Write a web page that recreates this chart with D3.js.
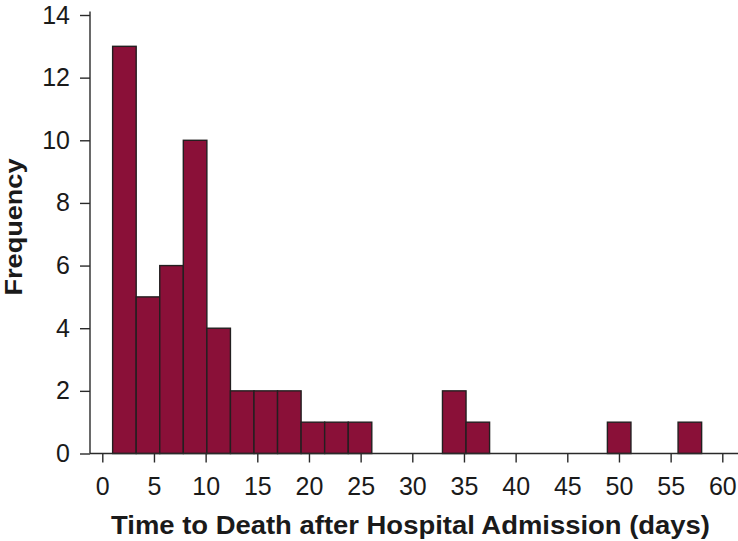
<!DOCTYPE html>
<html>
<head>
<meta charset="utf-8">
<script src="https://cdn.jsdelivr.net/npm/d3@7"></script>
<style>
  html, body { margin: 0; padding: 0; background: #fff; }
  svg { display: block; }
  text { font-family: "Liberation Sans", Arial, Helvetica, sans-serif; fill: #1a1a1a; }
</style>
</head>
<body>
<svg id="chart" width="738" height="541"></svg>
<script>
// Histogram bins: 25 equal-width bins from 1 to 58 days
const binStart = 1;
const binEnd = 58;
const binCount = 25;
const counts = [13, 5, 6, 10, 4, 2, 2, 2, 1, 1, 1, 0, 0, 0, 2, 1, 0, 0, 0, 0, 0, 1, 0, 0, 1];
const xTicks = [0, 5, 10, 15, 20, 25, 30, 35, 40, 45, 50, 55, 60];
const yTicks = [0, 2, 4, 6, 8, 10, 12, 14];
const xTitle = "Time to Death after Hospital Admission (days)";
const yTitle = "Frequency";

const svg = d3.select("#chart");
const x = d3.scaleLinear().domain([0, 60]).range([102.3, 722.3]);
const y = d3.scaleLinear().domain([0, 14]).range([453.5, 15]);

const width = (binEnd - binStart) / binCount;
const bins = counts.map((c, i) => ({ x0: binStart + i * width, x1: binStart + (i + 1) * width, n: c }));

// Bars
svg.append("g").selectAll("rect")
  .data(bins.filter(d => d.n > 0))
  .join("rect")
  .attr("x", d => x(d.x0))
  .attr("y", d => y(d.n))
  .attr("width", d => x(d.x1) - x(d.x0))
  .attr("height", d => y(0) - y(d.n))
  .attr("fill", "#8a1038")
  .attr("stroke", "#231f20")
  .attr("stroke-width", 1.4);

const axisColor = "#2a2a2a";

// X axis
const xAxis = svg.append("g").attr("transform", `translate(0,${y(0)})`)
  .call(d3.axisBottom(x).tickValues(xTicks).tickSize(9).tickPadding(15).tickSizeOuter(0));
xAxis.select(".domain").remove();
xAxis.append("line").attr("x1", 90).attr("x2", 738).attr("y1", 0).attr("y2", 0)
  .attr("stroke", axisColor).attr("stroke-width", 1.4);
xAxis.selectAll(".tick line").attr("stroke", axisColor).attr("stroke-width", 1.4);
xAxis.selectAll(".tick text").attr("font-size", 25).attr("fill", "#1a1a1a")
  .attr("font-family", "Liberation Sans, Arial, sans-serif");

// Y axis
const yAxis = svg.append("g").attr("transform", `translate(90,0)`)
  .call(d3.axisLeft(y).tickValues(yTicks).tickSize(10).tickPadding(10).tickSizeOuter(0));
yAxis.select(".domain").remove();
yAxis.append("line").attr("x1", 0).attr("x2", 0).attr("y1", 11.5).attr("y2", y(0))
  .attr("stroke", axisColor).attr("stroke-width", 1.4);
yAxis.selectAll(".tick line").attr("stroke", axisColor).attr("stroke-width", 1.4);
yAxis.selectAll(".tick text").attr("font-size", 25).attr("fill", "#1a1a1a")
  .attr("font-family", "Liberation Sans, Arial, sans-serif");

// Titles
svg.append("text")
  .attr("x", 410.5).attr("y", 534)
  .attr("text-anchor", "middle")
  .attr("font-size", 25).attr("font-weight", "bold")
  .attr("textLength", 599).attr("lengthAdjust", "spacingAndGlyphs")
  .text(xTitle);

svg.append("text")
  .attr("transform", "translate(22,227) rotate(-90)")
  .attr("text-anchor", "middle")
  .attr("font-size", 23).attr("font-weight", "bold")
  .attr("textLength", 137).attr("lengthAdjust", "spacingAndGlyphs")
  .text(yTitle);
</script>
</body>
</html>
